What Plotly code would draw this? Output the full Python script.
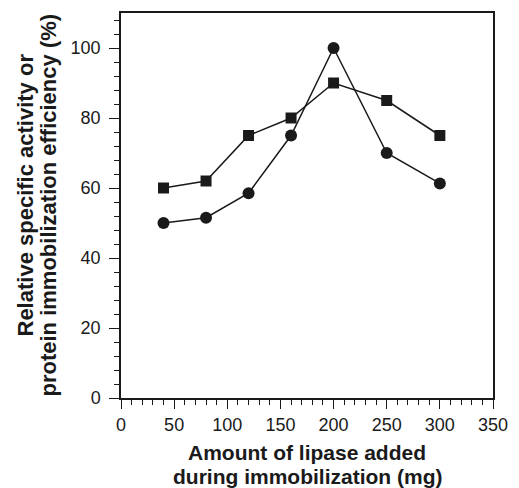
import plotly.graph_objects as go

lipase_mg = [40, 80, 120, 160, 200, 250, 300]
protein_immob = [60, 62, 75, 80, 90, 85, 75]       # squares
rel_activity = [50, 51.5, 58.5, 75, 100, 70, 61.3]  # circles

x_ticks = [0, 50, 100, 150, 200, 250, 300, 350]
y_ticks = [0, 20, 40, 60, 80, 100]

x_title = ["Amount of lipase added", "during immobilization (mg)"]
y_title = ["Relative specific activity or", "protein immobilization efficiency (%)"]

FONT = "Liberation Sans, Arial, sans-serif"
INK = "#1a1a1a"

fig = go.Figure()
fig.add_trace(go.Scatter(
    x=lipase_mg, y=protein_immob, mode="lines+markers",
    line=dict(color=INK, width=1.5),
    marker=dict(symbol="square", size=11, color=INK),
    showlegend=False, cliponaxis=False))
fig.add_trace(go.Scatter(
    x=lipase_mg, y=rel_activity, mode="lines+markers",
    line=dict(color=INK, width=1.5),
    marker=dict(symbol="circle", size=12, color=INK),
    showlegend=False, cliponaxis=False))

axis_common = dict(
    showgrid=False, zeroline=False, showline=True, linecolor=INK, linewidth=1.5,
    mirror=True, ticks="outside", tickcolor=INK, tickwidth=1.2,
    tickfont=dict(family=FONT, size=18, color=INK),
)

fig.update_xaxes(range=[0, 350], tickvals=x_ticks, ticklen=9, ticklabelstandoff=1,
                 minor=dict(dtick=10, ticks="outside", ticklen=5, tickcolor=INK, tickwidth=1.2),
                 **axis_common)
fig.update_yaxes(range=[0, 110], tickvals=y_ticks, ticklen=10, ticklabelstandoff=5,
                 minor=dict(dtick=4, ticks="outside", ticklen=5, tickcolor=INK, tickwidth=1.2),
                 **axis_common)

annotations = []
# x title lines
for txt, ypix in zip(x_title, [-54, -78]):
    annotations.append(dict(
        text=f"<b>{txt}</b>", xref="paper", yref="paper", x=0.5, y=0,
        yshift=ypix, showarrow=False, xanchor="center", yanchor="middle",
        font=dict(family=FONT, size=21, color=INK)))
# y title lines
for txt, xpix, ypix in zip(y_title, [-96, -73], [10, 0]):
    annotations.append(dict(
        text=f"<b>{txt}</b>", xref="paper", yref="paper", x=0, y=0.5,
        xshift=xpix, yshift=ypix, showarrow=False, textangle=-90,
        xanchor="center", yanchor="middle",
        font=dict(family=FONT, size=22, color=INK)))

fig.update_layout(
    width=519, height=488,
    margin=dict(l=121, r=17, t=11, b=90),
    paper_bgcolor="white", plot_bgcolor="white",
    annotations=annotations,
)

fig.write_html("out.html")
